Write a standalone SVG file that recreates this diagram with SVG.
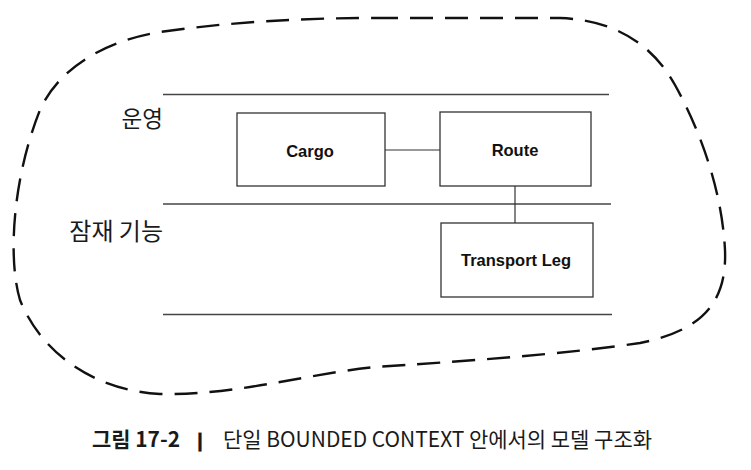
<svg xmlns="http://www.w3.org/2000/svg" width="751" height="470" viewBox="0 0 751 470">
<style>
.lane{stroke:#444;stroke-width:1.4;fill:none}
.box{fill:#fff;stroke:#333;stroke-width:1.3}
.conn{stroke:#333;stroke-width:1.2;fill:none}
.nt{font-family:"Liberation Sans",Arial,sans-serif;font-weight:bold;font-size:16.5px;fill:#111;text-anchor:middle}
.kl{font-family:"Noto Sans CJK KR","Noto Sans",sans-serif;fill:#1a1a1a}
.bound{fill:none;stroke:#111;stroke-width:2.4;stroke-dasharray:23 12}
</style>
<rect width="751" height="470" fill="#fff"/>
<path id="boundary" class="bound" d="M 375 18 L 560 18 C 610 20, 650 40, 675 85 C 700 130, 722 190, 725 250 C 727 300, 705 330, 640 343 C 560 355, 450 362, 375 367 C 300 375, 240 395, 160 394 C 90 390, 40 350, 20 300 C 8 260, 12 180, 40 110 C 60 65, 110 40, 160 32 C 230 22, 300 18, 375 18 Z"/>
<g id="lanes">
<line class="lane" x1="163" y1="94.5" x2="609" y2="94.5"/>
<line class="lane" x1="163" y1="204" x2="611" y2="204"/>
<line class="lane" x1="163" y1="314.5" x2="612" y2="314.5"/>
<text class="kl" x="163" y="127" font-size="22.5" text-anchor="end">운영</text>
<text class="kl" x="163" y="240" font-size="24" text-anchor="end">잠재 기능</text>
</g>
<g id="connectors">
<line class="conn" x1="385" y1="150" x2="440" y2="150"/>
<line class="conn" x1="515" y1="186" x2="515" y2="223"/>
</g>
<g id="cargo">
<rect class="box" x="237" y="113" width="148" height="73"/>
<text class="nt" x="310" y="157">Cargo</text>
</g>
<g id="route">
<rect class="box" x="440" y="112" width="151" height="74"/>
<text class="nt" x="515" y="156">Route</text>
</g>
<g id="transport-leg">
<rect class="box" x="441" y="223" width="152" height="74"/>
<text class="nt" x="516" y="266">Transport Leg</text>
</g>
<g id="caption">
<text class="kl" x="92" y="447" font-size="21" font-weight="bold" textLength="88" lengthAdjust="spacingAndGlyphs">그림 17-2</text>
<text class="kl" x="200" y="447" font-size="19" text-anchor="middle">❙</text>
<text class="kl" x="223" y="447" font-size="21" textLength="429" lengthAdjust="spacingAndGlyphs">단일 BOUNDED CONTEXT 안에서의 모델 구조화</text>
</g>
</svg>
